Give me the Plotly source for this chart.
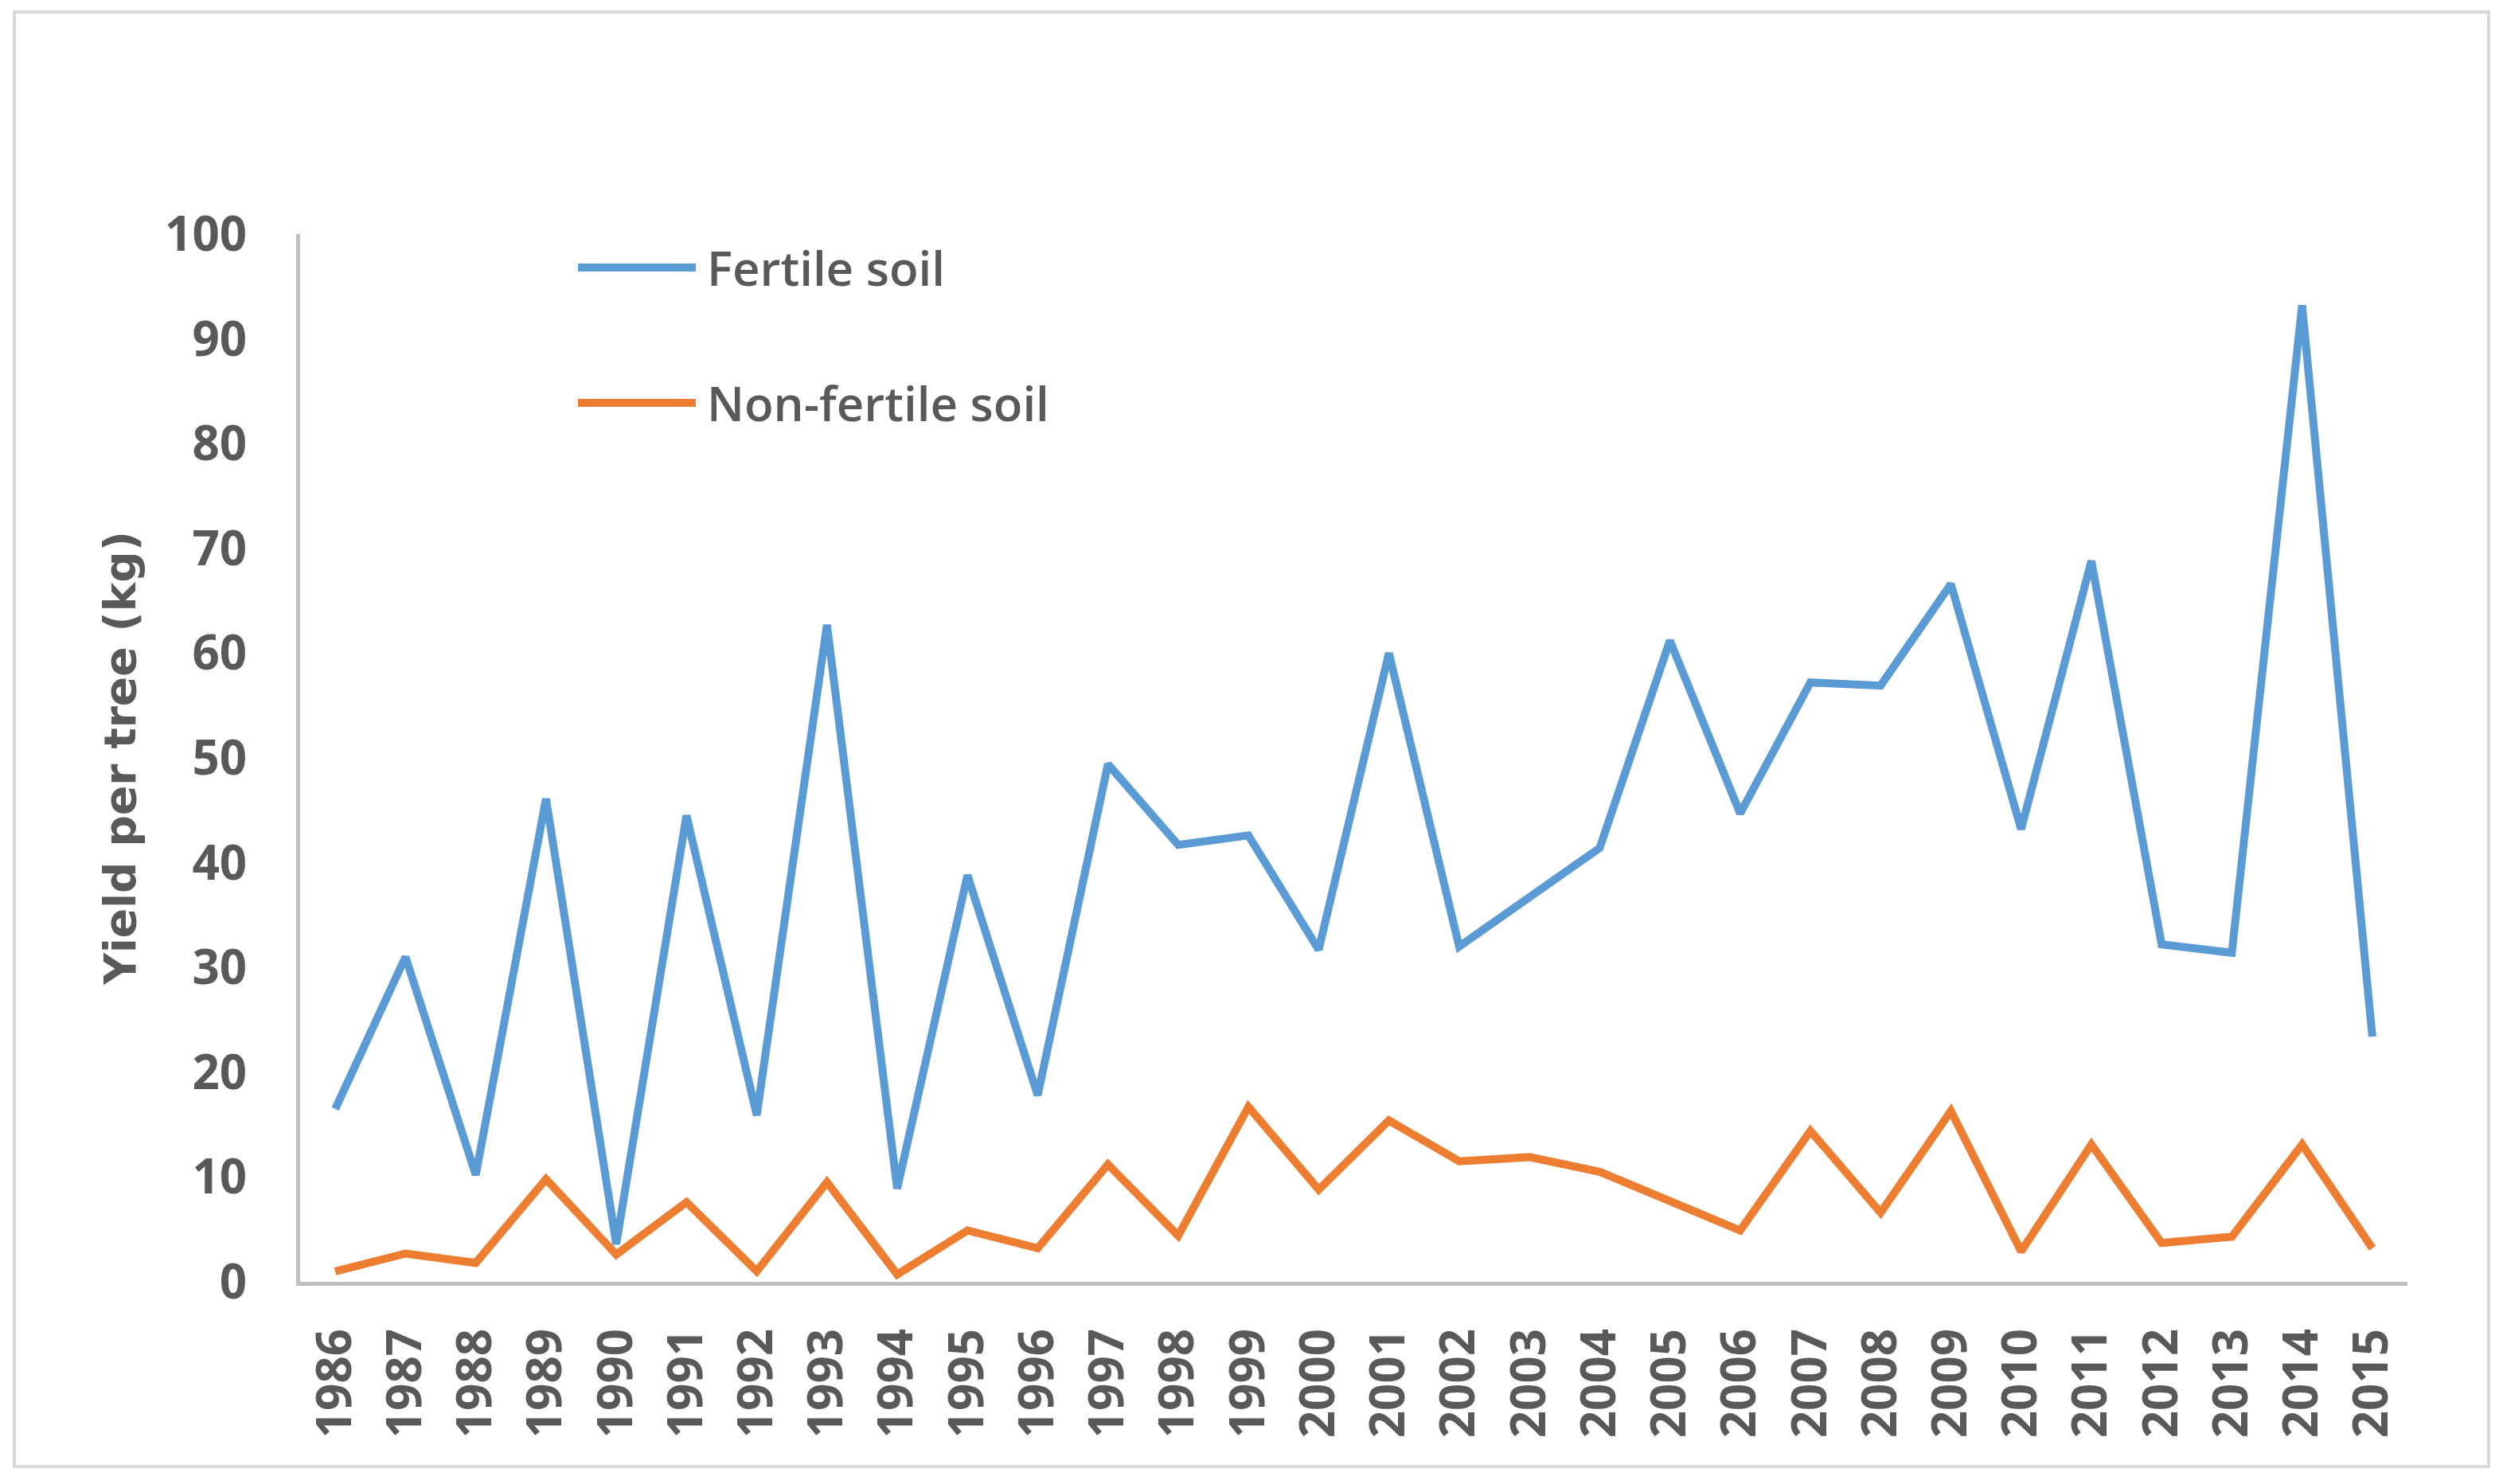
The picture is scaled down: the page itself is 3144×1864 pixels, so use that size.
import plotly.graph_objects as go

# years on the category axis
years = [str(y) for y in range(1986, 2016)]

# yield per tree (kg)
fertile = [16.5, 31.0, 10.2, 46.1, 3.6, 44.5, 15.9, 62.7, 8.9, 38.8,
           17.8, 49.4, 41.7, 42.6, 31.7, 60.0, 32.0, 36.8, 41.4, 61.2,
           44.7, 57.2, 56.9, 66.6, 43.2, 68.8, 32.2, 31.4, 93.2, 23.4]
non_fertile = [1.0, 2.7, 1.8, 9.8, 2.6, 7.6, 1.0, 9.5, 0.7, 4.9,
               3.2, 11.2, 4.4, 16.7, 8.8, 15.4, 11.5, 11.9, 10.5, 7.8,
               4.9, 14.4, 6.6, 16.3, 2.9, 13.1, 3.7, 4.3, 13.1, 3.2]

series_names = ["Fertile soil", "Non-fertile soil"]
colors = ["#5B9BD5", "#ED7D31"]

grey = "#595959"
tick_font = "Open Sans"
title_font = "DejaVu Sans"
legend_font = "Open Sans"

# figure is 3144 x 1864; the page body adds an 8px offset, so shift everything
W, H = 3144, 1864
OFF = 8
L, R, T, B = 377 - OFF, 120 + OFF, 294 - OFF, 254 + OFF
pw, ph = W - L - R, H - T - B


def px_x(x):
    return (x - OFF - L) / pw


def px_y(y):
    return (H - B - (y - OFF)) / ph


fig = go.Figure()
for name, vals, col in zip(series_names, [fertile, non_fertile], colors):
    fig.add_trace(go.Scatter(x=years, y=vals, mode="lines", name=name,
                             line=dict(color=col, width=10)))

# legend drawn by hand so the line samples are long like the original
shapes = []
annotations = []
for i, (name, col) in enumerate(zip(series_names, colors)):
    ypix = 336 + i * 170
    shapes.append(dict(type="line", xref="paper", yref="paper",
                       x0=px_x(726), x1=px_x(874), y0=px_y(ypix), y1=px_y(ypix),
                       line=dict(color=col, width=10)))
    annotations.append(dict(text=name, xref="paper", yref="paper",
                            x=px_x(886), y=px_y(ypix), xanchor="left", yanchor="middle",
                            showarrow=False,
                            font=dict(family=legend_font, size=60, color=grey, weight=600)))

# light outer frame
shapes.append(dict(type="rect", xref="paper", yref="paper",
                   x0=px_x(18), x1=px_x(3126), y0=px_y(1842), y1=px_y(15),
                   line=dict(color="#d9d9d9", width=4), layer="below"))

fig.update_layout(
    width=W, height=H,
    margin=dict(l=L, r=R, t=T, b=B),
    paper_bgcolor="white", plot_bgcolor="white",
    showlegend=False,
    shapes=shapes,
    annotations=annotations,
    font=dict(family=tick_font, color=grey),
)
fig.update_xaxes(type="category", range=[-0.5, len(years) - 0.5],
                 showline=True, linecolor="#bfbfbf", linewidth=5,
                 showgrid=False, ticks="", tickangle=-90,
                 ticklabelstandoff=30,
                 tickfont=dict(family=tick_font, size=60, color=grey, weight="bold"))
fig.update_yaxes(range=[0, 100], dtick=10,
                 showline=True, linecolor="#bfbfbf", linewidth=5,
                 showgrid=False, zeroline=False, ticks="",
                 ticklabelstandoff=50,
                 tickfont=dict(family=tick_font, size=60, color=grey, weight="bold"),
                 title=dict(text="Yield per tree (kg)", standoff=20,
                            font=dict(family=title_font, size=55, color=grey, weight="bold")))

fig.write_html("out.html")
